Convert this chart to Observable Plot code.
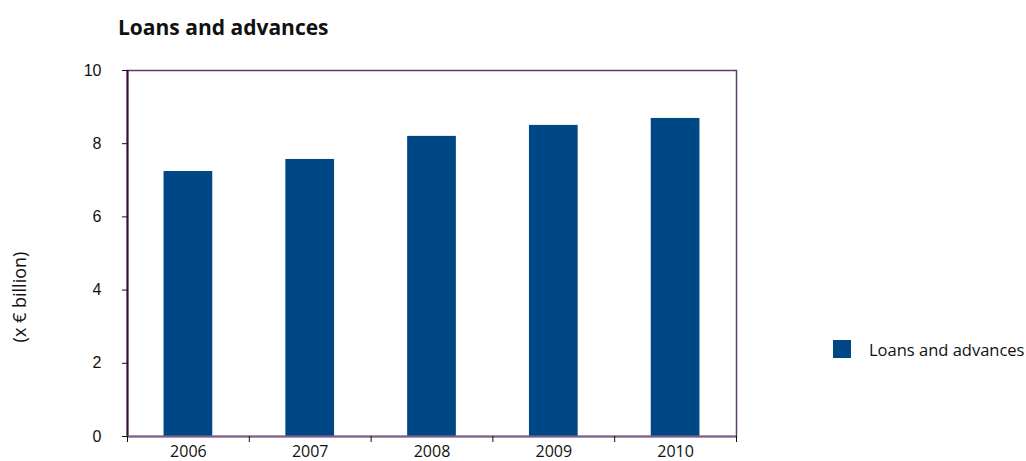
<!DOCTYPE html>
<html>
<head>
<meta charset="utf-8">
<script src="https://cdn.jsdelivr.net/npm/d3@7"></script>
<script src="https://cdn.jsdelivr.net/npm/@observablehq/plot@0.6"></script>
<style>
  html, body { margin: 0; padding: 0; background: #fff; }
  #wrap { position: relative; width: 1026px; height: 461px; overflow: hidden; }
  #title { position: absolute; left: 118px; top: 13px; font: bold 21px "Open Sans", sans-serif; color: #111; white-space: nowrap; }
  #ylab { position: absolute; left: 19px; top: 297px; transform: translate(-50%, -50%) rotate(-90deg); font: 18px "Open Sans", sans-serif; color: #111; white-space: nowrap; }
  #legend { position: absolute; left: 833px; top: 340px; font: 16.5px "Open Sans", sans-serif; color: #111; white-space: nowrap; display: flex; align-items: center; height: 18px; }
  #legend .sw { width: 18px; height: 18px; background: #004785; display: inline-block; margin-right: 18px; }
  #chart { position: absolute; left: 0; top: 0; }
</style>
</head>
<body>
<div id="wrap">
  <div id="chart"></div>
  <div id="title"></div>
  <div id="ylab"></div>
  <div id="legend"><span class="sw"></span><span id="legtext"></span></div>
</div>
<script>
const title = "Loans and advances";
const yLabel = "(x € billion)";
const seriesName = "Loans and advances";
const years = [2006, 2007, 2008, 2009, 2010];
const values = [7.24, 7.57, 8.2, 8.5, 8.69];
const yTicks = [0, 2, 4, 6, 8, 10];

const data = years.map((y, i) => ({year: y, value: values[i]}));
const boundaries = [years[0] - 0.5, ...years.map(y => y + 0.5)];
const barColor = "#004785";

document.getElementById("title").textContent = title;
document.getElementById("ylab").textContent = yLabel;
document.getElementById("legtext").textContent = seriesName;

const plot = Plot.plot({
  width: 1026,
  height: 461,
  marginLeft: 127,
  marginRight: 290,
  marginTop: 70,
  marginBottom: 25,
  style: {fontFamily: "'Liberation Sans', Arial, sans-serif", fontSize: "16px", color: "#111", background: "#fff"},
  x: {type: "linear", domain: [boundaries[0], boundaries[boundaries.length - 1]]},
  y: {domain: [0, 10]},
  marks: [
    Plot.rectY(data, {x1: d => d.year - 0.2, x2: d => d.year + 0.2, y: "value", fill: barColor}),
    Plot.frame({stroke: "#5c3c6a", strokeWidth: 1.5}),
    Plot.ruleX([boundaries[0]], {stroke: "#3a0a3a", strokeWidth: 2}),
    Plot.ruleY([0], {stroke: "#7d5f8c", strokeWidth: 2}),
    Plot.axisY({ticks: yTicks, tickSize: 5, tickPadding: 21, tickFormat: d => d, label: null, stroke: "#111", fontSize: 16}),
    Plot.axisX({ticks: boundaries, tickSize: 6, tickFormat: () => "", label: null, stroke: "#111"}),
    Plot.axisX({ticks: years, tickSize: 0, tickPadding: 9, tickFormat: d => String(d), label: null, fontFamily: "'Open Sans', sans-serif", fontSize: 16})
  ]
});
document.getElementById("chart").appendChild(plot);
</script>
</body>
</html>
